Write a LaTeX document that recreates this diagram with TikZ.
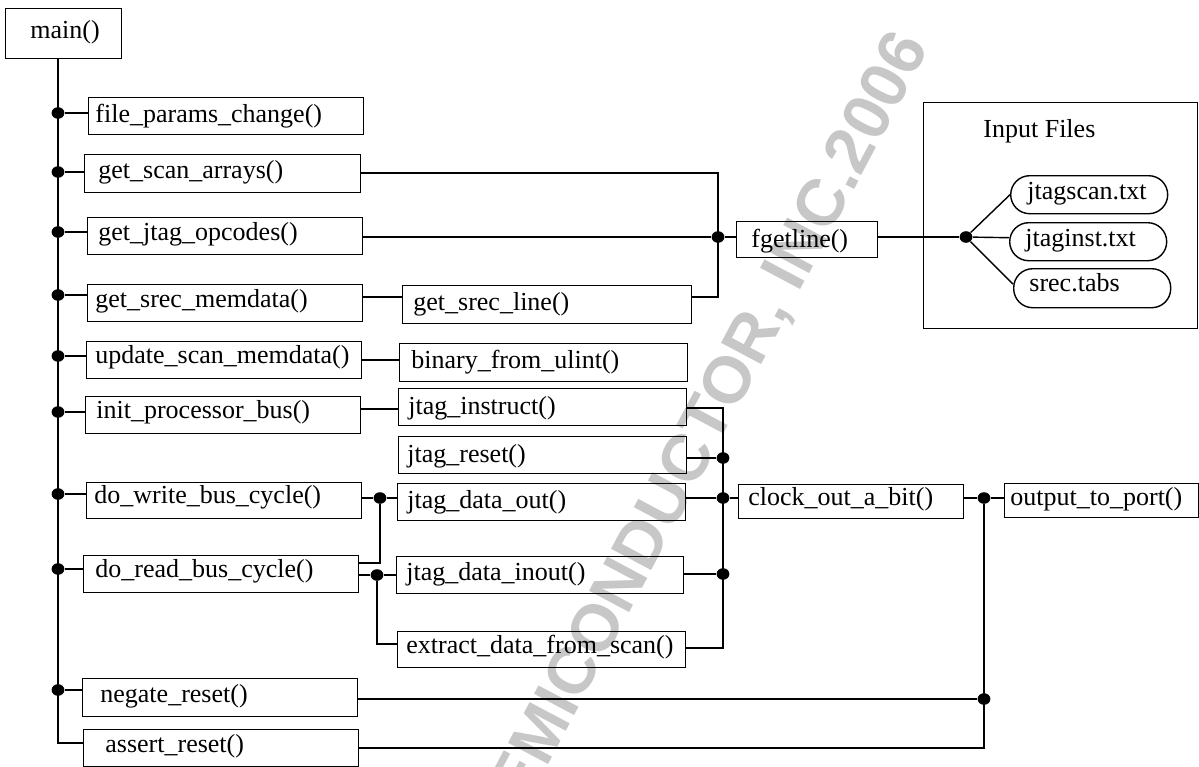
\documentclass[tikz,border=0pt]{standalone}
\usepackage{fontspec}
\setmainfont{Liberation Serif}
\newfontfamily\wmfont{Liberation Sans}
\usetikzlibrary{calc,shapes.geometric}
\tikzset{
  box/.style={draw=black, line width=0.7pt, rectangle, inner sep=0pt, anchor=north west},
  pill/.style={box, rounded corners=9.5pt},
  txt/.style={anchor=base west, inner sep=0pt, font=\fontsize{13}{15}\selectfont},
  dot/.style={ellipse, fill=black, inner sep=0pt, minimum width=6.4pt, minimum height=5.8pt},
  wire/.style={draw=black, line width=0.7pt},
  watermark/.style={anchor=base east, rotate=62, inner sep=0pt, text=black!22,
    font=\wmfont\bfseries\fontsize{33}{36}\selectfont}
}
\newcommand\fnbox[8]{%
  \node[#1, minimum width=#5*0.5pt, minimum height=#6*0.5pt] (#2) at (#3,#4) {};
  \node[txt] at ($(#2.north west)+(#7)$) {#8};}
\begin{document}
\begin{tikzpicture}[x=0.5pt, y=-0.5pt]
\useasboundingbox (0,0) rectangle (1199,766);
\begin{scope}
  \clip (0,0) rectangle (1199,766);
  \node[watermark] (wm) at (930,47) {FREESCALE SEMICONDUCTOR, INC.2006};
\end{scope}

% left column
\fnbox{box}{main}{5}{8}{116}{50}{25,30}{main()}
\fnbox{box}{fp}{88}{97}{275}{37}{7,25}{file\_params\_change()}
\fnbox{box}{gsa}{84}{154}{276}{38}{14,24}{get\_scan\_arrays()}
\fnbox{box}{gjo}{87}{217}{275}{37}{11,23}{get\_jtag\_opcodes()}
\fnbox{box}{gsm}{87}{284}{275}{37}{8,23}{get\_srec\_memdata()}
\fnbox{box}{usm}{86}{341}{275}{37}{9,22}{update\_scan\_memdata()}
\fnbox{box}{ipb}{85}{396}{275}{37}{11,22}{init\_processor\_bus()}
\fnbox{box}{dwb}{86}{482}{275}{36}{8,21}{do\_write\_bus\_cycle()}
\fnbox{box}{drb}{83}{555}{275}{37}{12,22}{do\_read\_bus\_cycle()}
\fnbox{box}{nr}{82}{678}{275}{38}{18,24}{negate\_reset()}
\fnbox{box}{ar}{83}{729}{275}{37}{22,23}{assert\_reset()}

% middle column
\fnbox{box}{gsl}{402}{285}{289}{38}{11,25}{get\_srec\_line()}
\fnbox{box}{bfu}{399}{343}{288}{38}{12,25}{binary\_from\_ulint()}
\fnbox{box}{ji}{398}{388}{288}{37}{10,26}{jtag\_instruct()}
\fnbox{box}{jr}{398}{436}{288}{37}{9,26}{jtag\_reset()}
\fnbox{box}{jdo}{397}{483}{288}{37}{10,25}{jtag\_data\_out()}
\fnbox{box}{jdi}{396}{556}{287}{37}{10,24}{jtag\_data\_inout()}
\fnbox{box}{eds}{397}{631}{288}{36}{9,22}{extract\_data\_from\_scan()}

% right side
\fnbox{box}{fg}{736}{221}{141}{36}{15,26}{fgetline()}
\fnbox{box}{cob}{738}{484}{225}{34}{10,21}{clock\_out\_a\_bit()}
\fnbox{box}{otp}{1004}{483}{194}{34}{6,22}{output\_to\_port()}

\node[box, minimum width=274*0.5pt, minimum height=226*0.5pt] (inf) at (923,102) {};
\node[txt] (inft) at (983,137) {Input Files};
\fnbox{pill}{p1}{1010}{175}{157}{38}{17,24}{jtagscan.txt}
\fnbox{pill}{p2}{1009}{222}{157}{38}{16,24}{jtaginst.txt}
\fnbox{pill}{p3}{1013}{268}{157}{39}{16,23}{srec.tabs}

% dots
\node[dot] (t1) at (58,113) {};
\node[dot] (t2) at (58,172) {};
\node[dot] (t3) at (58,232) {};
\node[dot] (t4) at (58,295) {};
\node[dot] (t5) at (58,356) {};
\node[dot] (t6) at (58,412) {};
\node[dot] (t7) at (58,494) {};
\node[dot] (t8) at (58,569) {};
\node[dot] (t9) at (58,690) {};
\node[dot] (fgd) at (718,237) {};
\node[dot] (infd) at (966,237) {};
\node[dot] (wd) at (380,498) {};
\node[dot] (rd) at (377,575) {};
\node[dot] (cd1) at (723,458) {};
\node[dot] (cd2) at (723,498) {};
\node[dot] (cd3) at (723,574) {};
\node[dot] (od) at (984,498) {};
\node[dot] (nd) at (984,699) {};

% bend coordinates
\coordinate (trk) at (58,743);
\coordinate (b1) at (718,173);
\coordinate (b2) at (718,297);
\coordinate (b3) at (723,408);
\coordinate (b4) at (723,648);
\coordinate (b5) at (380,563);
\coordinate (b6) at (377,644);
\coordinate (b7) at (984,748);
\coordinate (c1) at (0,297);
\coordinate (c2) at (0,360);
\coordinate (c3) at (0,409);

% trunk
\draw[wire] (main.south -| trk) -- (trk) -- (ar.west |- trk);
\foreach \d/\b in {t1/fp, t2/gsa, t3/gjo, t4/gsm, t5/usm, t6/ipb, t7/dwb, t8/drb, t9/nr}
  \draw[wire] (\d) -- (\b.west |- \d);

% fgetline bus
\draw[wire] (gsa.east |- b1) -- (b1) -- (b2) -- (gsl.east |- b2);
\draw[wire] (gjo.east |- fgd) -- (fgd) -- (fg.west |- fgd);
\draw[wire] (fg.east |- infd) -- (infd);
\draw[wire] (infd) -- (p1.west);
\draw[wire] (infd) -- ([yshift=2pt]p2.west);
\draw[wire] (infd) -- ([yshift=2pt]p3.west);

\draw[wire] (gsm.east |- c1) -- (gsl.west |- c1);
\draw[wire] (usm.east |- c2) -- (bfu.west |- c2);
\draw[wire] (ipb.east |- c3) -- (ji.west |- c3);

% clock bus
\draw[wire] (ji.east |- b3) -- (b3) -- (b4) -- (eds.east |- b4);
\draw[wire] (jr.east |- cd1) -- (cd1);
\draw[wire] (jdo.east |- cd2) -- (cd2) -- (cob.west |- cd2);
\draw[wire] (jdi.east |- cd3) -- (cd3);

% write / read
\draw[wire] (dwb.east |- wd) -- (wd) -- (jdo.west |- wd);
\draw[wire] (wd) -- (b5) -- (drb.east |- b5);
\draw[wire] (drb.east |- rd) -- (rd) -- (jdi.west |- rd);
\draw[wire] (rd) -- (b6) -- (eds.west |- b6);

% output
\draw[wire] (cob.east |- od) -- (od) -- (otp.west |- od);
\draw[wire] (od) -- (b7) -- (ar.east |- b7);
\draw[wire] (nr.east |- nd) -- (nd);
\end{tikzpicture}
\end{document}
